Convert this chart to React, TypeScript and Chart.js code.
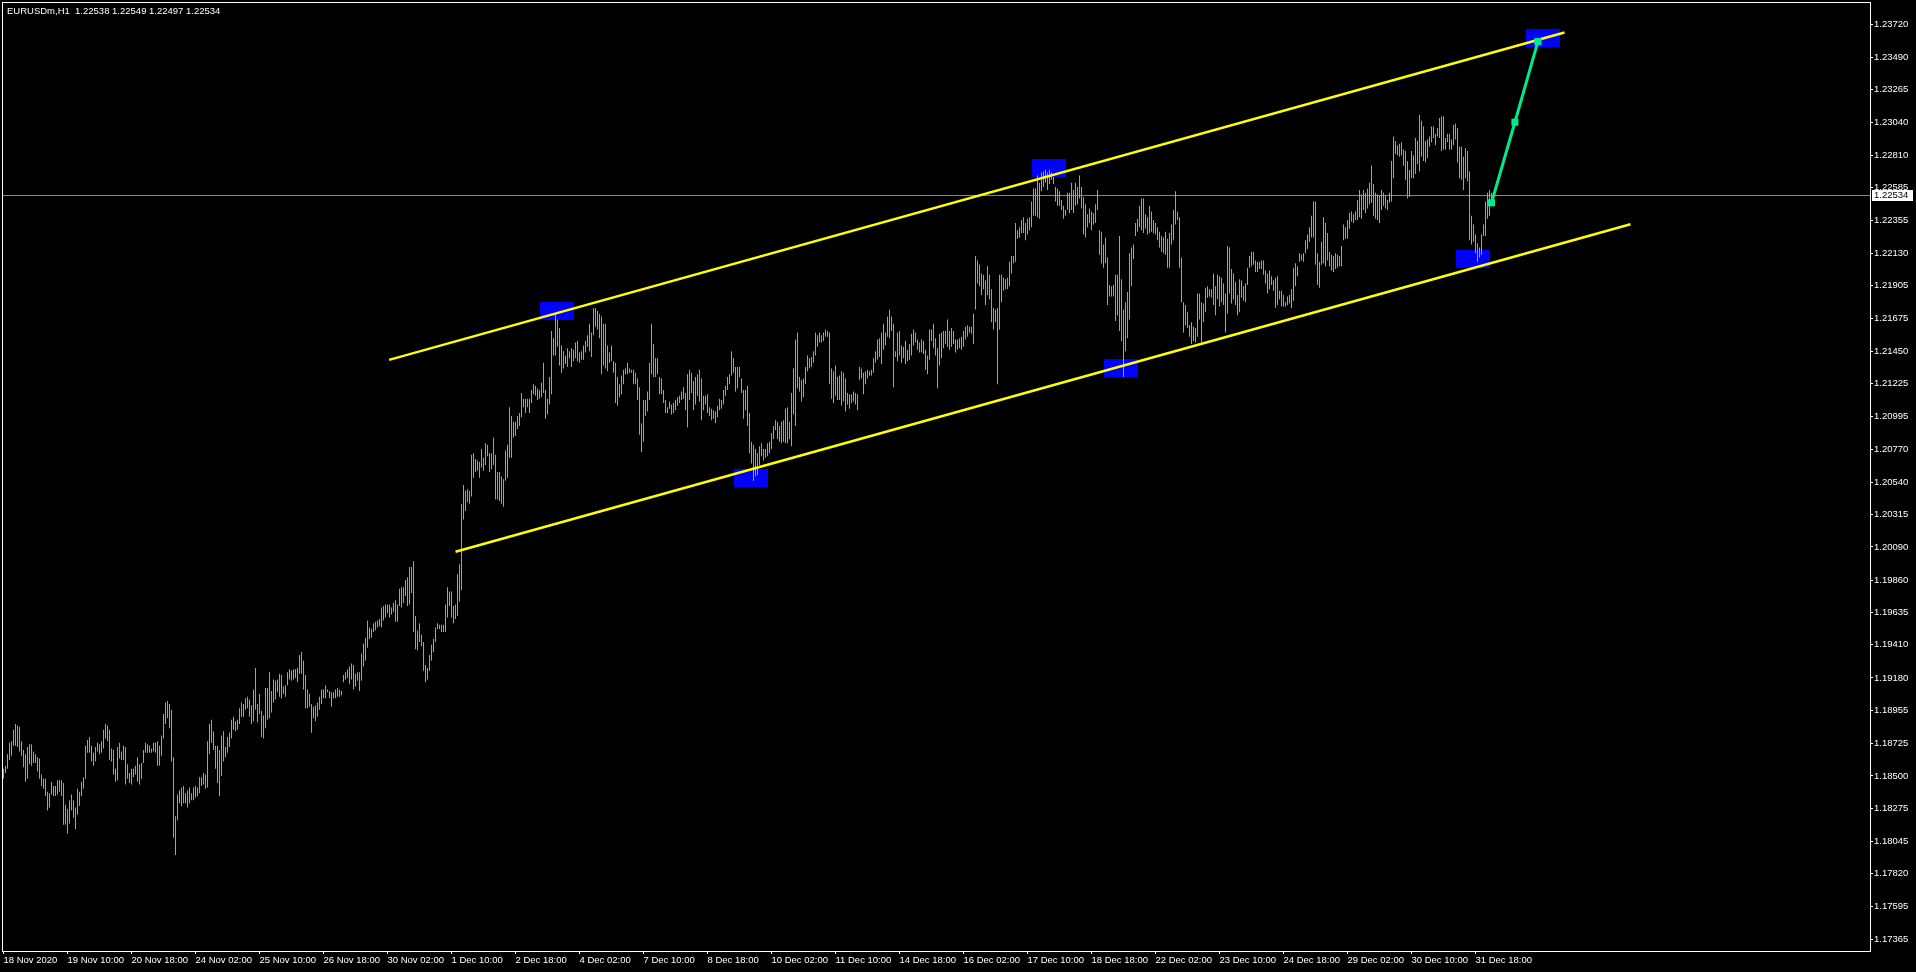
import React, { useEffect, useRef } from "react";
import { Chart, registerables } from "chart.js";

Chart.register(...registerables);

// ---------- data ----------
const chartTitle = "EURUSDm,H1  1.22538 1.22549 1.22497 1.22534";

const timeLabels = [
  "18 Nov 2020", "19 Nov 10:00", "20 Nov 18:00", "24 Nov 02:00", "25 Nov 10:00", "26 Nov 18:00",
  "30 Nov 02:00", "1 Dec 10:00", "2 Dec 18:00", "4 Dec 02:00", "7 Dec 10:00", "8 Dec 18:00",
  "10 Dec 02:00", "11 Dec 10:00", "14 Dec 18:00", "16 Dec 02:00", "17 Dec 10:00", "18 Dec 18:00",
  "22 Dec 02:00", "23 Dec 10:00", "24 Dec 18:00", "29 Dec 02:00", "30 Dec 10:00", "31 Dec 18:00",
];
const barsPerTimeLabel = 32;

const priceTicks = [
  1.2372, 1.2349, 1.23265, 1.2304, 1.2281, 1.22585, 1.22355, 1.2213, 1.21905, 1.21675,
  1.2145, 1.21225, 1.20995, 1.2077, 1.2054, 1.20315, 1.2009, 1.1986, 1.19635, 1.1941,
  1.1918, 1.18955, 1.18725, 1.185, 1.18275, 1.18045, 1.1782, 1.17595, 1.17365,
];

// hourly bars: high and low
const barHighs = [
  1.1855,1.1857,1.1865,1.1873,1.1874,1.1882,1.1886,1.1885,1.1884,1.1874,
  1.1868,1.1865,1.1870,1.1872,1.1872,1.1867,1.1865,1.1863,1.1862,1.1851,
  1.1848,1.1848,1.1839,1.1838,1.1846,1.1843,1.1843,1.1847,1.1847,1.1847,
  1.1845,1.1830,1.1827,1.1833,1.1837,1.1833,1.1828,1.1841,1.1839,1.1846,
  1.1849,1.1871,1.1875,1.1877,1.1871,1.1866,1.1870,1.1873,1.1872,1.1874,
  1.1882,1.1886,1.1885,1.1882,1.1869,1.1868,1.1855,1.1870,1.1873,1.1867,
  1.1871,1.1870,1.1858,1.1852,1.1855,1.1855,1.1857,1.1863,1.1858,1.1859,
  1.1868,1.1873,1.1872,1.1871,1.1869,1.1873,1.1873,1.1874,1.1871,1.1878,
  1.1893,1.1901,1.1902,1.1900,1.1896,1.1863,1.1822,1.1837,1.1840,1.1842,
  1.1843,1.1838,1.1840,1.1842,1.1838,1.1842,1.1843,1.1842,1.1849,1.1849,
  1.1852,1.1851,1.1874,1.1886,1.1889,1.1881,1.1871,1.1871,1.1868,1.1878,
  1.1881,1.1870,1.1877,1.1880,1.1889,1.1891,1.1888,1.1889,1.1897,1.1901,
  1.1900,1.1904,1.1905,1.1903,1.1899,1.1910,1.1925,1.1900,1.1907,1.1895,
  1.1892,1.1911,1.1911,1.1922,1.1909,1.1917,1.1916,1.1917,1.1921,1.1920,
  1.1912,1.1913,1.1922,1.1924,1.1923,1.1924,1.1924,1.1925,1.1934,1.1936,
  1.1930,1.1920,1.1910,1.1907,1.1900,1.1898,1.1899,1.1901,1.1905,1.1910,
  1.1910,1.1913,1.1910,1.1909,1.1908,1.1908,1.1910,1.1911,1.1910,1.1909,
  1.1920,1.1922,1.1924,1.1926,1.1928,1.1927,1.1921,1.1922,1.1922,1.1935,
  1.1942,1.1946,1.1958,1.1953,1.1952,1.1956,1.1957,1.1958,1.1959,1.1967,
  1.1968,1.1969,1.1969,1.1969,1.1967,1.1970,1.1972,1.1969,1.1980,1.1981,
  1.1981,1.1986,1.1988,1.1995,1.1995,1.1999,1.1961,1.1951,1.1956,1.1948,
  1.1943,1.1927,1.1925,1.1934,1.1941,1.1945,1.1953,1.1956,1.1955,1.1955,
  1.1955,1.1969,1.1981,1.1978,1.1978,1.1968,1.1969,1.1990,1.1997,1.2039,
  1.2052,1.2048,1.2049,1.2048,1.2073,1.2074,1.2070,1.2069,1.2068,1.2077,
  1.2071,1.2081,1.2080,1.2074,1.2074,1.2085,1.2073,1.2061,1.2061,1.2058,
  1.2056,1.2076,1.2080,1.2106,1.2100,1.2096,1.2096,1.2100,1.2102,1.2116,
  1.2112,1.2112,1.2112,1.2112,1.2118,1.2122,1.2121,1.2119,1.2118,1.2123,
  1.2137,1.2118,1.2112,1.2127,1.2159,1.2154,1.2171,1.2167,1.2161,1.2149,
  1.2145,1.2142,1.2147,1.2145,1.2147,1.2146,1.2151,1.2152,1.2144,1.2145,
  1.2149,1.2152,1.2156,1.2164,1.2158,1.2175,1.2175,1.2173,1.2171,1.2169,
  1.2164,1.2164,1.2149,1.2144,1.2149,1.2138,1.2137,1.2127,1.2122,1.2128,
  1.2132,1.2133,1.2137,1.2133,1.2132,1.2132,1.2130,1.2126,1.2120,1.2095,
  1.2111,1.2111,1.2117,1.2137,1.2164,1.2150,1.2140,1.2140,1.2127,1.2126,
  1.2118,1.2111,1.2106,1.2110,1.2108,1.2109,1.2111,1.2113,1.2114,1.2117,
  1.2120,1.2116,1.2129,1.2132,1.2130,1.2124,1.2127,1.2129,1.2132,1.2126,
  1.2114,1.2114,1.2115,1.2106,1.2105,1.2104,1.2103,1.2107,1.2112,1.2111,
  1.2118,1.2121,1.2127,1.2129,1.2145,1.2140,1.2134,1.2134,1.2134,1.2126,
  1.2118,1.2118,1.2121,1.2102,1.2082,1.2080,1.2077,1.2074,1.2079,1.2081,
  1.2077,1.2077,1.2081,1.2082,1.2088,1.2093,1.2097,1.2096,1.2093,1.2096,
  1.2097,1.2105,1.2106,1.2096,1.2116,1.2133,1.2153,1.2158,1.2127,1.2125,
  1.2126,1.2134,1.2142,1.2140,1.2141,1.2145,1.2158,1.2156,1.2158,1.2156,
  1.2158,1.2160,1.2159,1.2158,1.2133,1.2131,1.2135,1.2127,1.2128,1.2131,
  1.2130,1.2126,1.2116,1.2115,1.2115,1.2117,1.2116,1.2115,1.2134,1.2133,
  1.2130,1.2131,1.2132,1.2131,1.2132,1.2140,1.2145,1.2153,1.2154,1.2158,
  1.2164,1.2158,1.2169,1.2174,1.2169,1.2164,1.2145,1.2158,1.2159,1.2149,
  1.2148,1.2152,1.2146,1.2150,1.2157,1.2160,1.2158,1.2153,1.2151,1.2153,
  1.2152,1.2146,1.2142,1.2160,1.2160,1.2164,1.2154,1.2147,1.2157,1.2158,
  1.2159,1.2159,1.2167,1.2159,1.2161,1.2159,1.2153,1.2153,1.2154,1.2155,
  1.2159,1.2162,1.2163,1.2162,1.2162,1.2171,1.2211,1.2208,1.2205,1.2199,
  1.2198,1.2194,1.2204,1.2198,1.2188,1.2175,1.2174,1.2175,1.2198,1.2198,
  1.2196,1.2195,1.2196,1.2207,1.2211,1.2211,1.2234,1.2229,1.2231,1.2236,
  1.2238,1.2234,1.2237,1.2238,1.2249,1.2258,1.2258,1.2267,1.2262,1.2269,
  1.2270,1.2271,1.2269,1.2271,1.2269,1.2266,1.2259,1.2258,1.2256,1.2250,
  1.2246,1.2243,1.2255,1.2255,1.2262,1.2257,1.2262,1.2259,1.2267,1.2259,
  1.2252,1.2247,1.2240,1.2244,1.2242,1.2241,1.2247,1.2257,1.2229,1.2228,
  1.2219,1.2224,1.2210,1.2191,1.2190,1.2191,1.2198,1.2198,1.2225,1.2195,
  1.2174,1.2179,1.2186,1.2213,1.2217,1.2219,1.2234,1.2237,1.2246,1.2251,
  1.2251,1.2240,1.2238,1.2246,1.2242,1.2236,1.2234,1.2231,1.2228,1.2225,
  1.2224,1.2228,1.2223,1.2227,1.2233,1.2243,1.2256,1.2242,1.2238,1.2210,
  1.2179,1.2177,1.2172,1.2163,1.2165,1.2162,1.2161,1.2185,1.2185,1.2179,
  1.2178,1.2189,1.2190,1.2188,1.2188,1.2199,1.2190,1.2198,1.2197,1.2196,
  1.2192,1.2185,1.2218,1.2217,1.2202,1.2199,1.2193,1.2184,1.2195,1.2194,
  1.2190,1.2192,1.2203,1.2211,1.2214,1.2214,1.2208,1.2207,1.2207,1.2208,
  1.2208,1.2201,1.2199,1.2201,1.2197,1.2194,1.2196,1.2197,1.2187,1.2187,
  1.2184,1.2179,1.2183,1.2184,1.2188,1.2203,1.2206,1.2204,1.2213,1.2212,
  1.2213,1.2222,1.2226,1.2231,1.2239,1.2249,1.2249,1.2213,1.2207,1.2221,
  1.2238,1.2234,1.2227,1.2214,1.2212,1.2211,1.2213,1.2212,1.2211,1.2218,
  1.2233,1.2231,1.2236,1.2241,1.2242,1.2240,1.2242,1.2250,1.2257,1.2254,
  1.2257,1.2255,1.2258,1.2262,1.2274,1.2261,1.2255,1.2254,1.2253,1.2257,
  1.2255,1.2253,1.2250,1.2255,1.2277,1.2294,1.2291,1.2288,1.2289,1.2290,
  1.2285,1.2284,1.2277,1.2271,1.2284,1.2281,1.2293,1.2291,1.2309,1.2305,
  1.2301,1.2291,1.2292,1.2294,1.2301,1.2301,1.2296,1.2300,1.2307,1.2308,
  1.2308,1.2293,1.2296,1.2296,1.2292,1.2302,1.2303,1.2300,1.2287,1.2287,
  1.2280,1.2286,1.2284,1.2270,1.2239,1.2233,1.2226,1.2220,1.2217,1.2226,
  1.2233,1.2249,1.2255,1.2257,1.2255,
];

const barLows = [
  1.1848,1.1852,1.1855,1.1861,1.1864,1.1871,1.1871,1.1870,1.1867,1.1864,
  1.1856,1.1846,1.1848,1.1858,1.1857,1.1859,1.1859,1.1853,1.1848,1.1843,
  1.1841,1.1836,1.1826,1.1828,1.1837,1.1836,1.1836,1.1837,1.1839,1.1836,
  1.1816,1.1816,1.1810,1.1817,1.1826,1.1821,1.1813,1.1823,1.1829,1.1836,
  1.1841,1.1848,1.1866,1.1866,1.1860,1.1857,1.1860,1.1867,1.1865,1.1866,
  1.1869,1.1876,1.1874,1.1861,1.1860,1.1851,1.1846,1.1847,1.1862,1.1861,
  1.1861,1.1844,1.1848,1.1845,1.1844,1.1849,1.1851,1.1846,1.1844,1.1848,
  1.1859,1.1866,1.1866,1.1866,1.1866,1.1867,1.1866,1.1857,1.1857,1.1864,
  1.1876,1.1886,1.1890,1.1883,1.1860,1.1807,1.1795,1.1819,1.1831,1.1829,
  1.1831,1.1831,1.1828,1.1831,1.1833,1.1833,1.1835,1.1836,1.1838,1.1843,
  1.1844,1.1841,1.1842,1.1865,1.1873,1.1868,1.1855,1.1845,1.1836,1.1850,
  1.1860,1.1863,1.1866,1.1870,1.1876,1.1882,1.1881,1.1882,1.1886,1.1891,
  1.1891,1.1896,1.1897,1.1891,1.1886,1.1888,1.1896,1.1887,1.1893,1.1877,
  1.1876,1.1883,1.1889,1.1890,1.1894,1.1901,1.1903,1.1908,1.1905,1.1904,
  1.1907,1.1905,1.1913,1.1917,1.1916,1.1917,1.1918,1.1915,1.1921,1.1921,
  1.1910,1.1897,1.1897,1.1898,1.1880,1.1890,1.1888,1.1891,1.1896,1.1900,
  1.1904,1.1904,1.1908,1.1904,1.1898,1.1904,1.1904,1.1905,1.1905,1.1906,
  1.1915,1.1917,1.1918,1.1914,1.1917,1.1910,1.1912,1.1916,1.1909,1.1916,
  1.1926,1.1930,1.1939,1.1945,1.1946,1.1950,1.1951,1.1953,1.1954,1.1953,
  1.1958,1.1960,1.1963,1.1960,1.1962,1.1964,1.1957,1.1957,1.1968,1.1967,
  1.1970,1.1975,1.1968,1.1969,1.1977,1.1950,1.1938,1.1937,1.1943,1.1940,
  1.1923,1.1915,1.1917,1.1923,1.1930,1.1936,1.1943,1.1952,1.1952,1.1950,
  1.1950,1.1950,1.1960,1.1968,1.1960,1.1956,1.1959,1.1961,1.1971,1.1979,
  1.2028,1.2034,1.2040,1.2039,1.2044,1.2057,1.2061,1.2062,1.2057,1.2064,
  1.2062,1.2066,1.2072,1.2061,1.2063,1.2066,1.2042,1.2042,1.2041,1.2039,
  1.2037,1.2055,1.2057,1.2071,1.2071,1.2085,1.2086,1.2091,1.2093,1.2099,
  1.2106,1.2102,1.2106,1.2102,1.2109,1.2115,1.2114,1.2111,1.2112,1.2113,
  1.2116,1.2098,1.2101,1.2108,1.2115,1.2142,1.2142,1.2148,1.2135,1.2130,
  1.2133,1.2136,1.2134,1.2140,1.2134,1.2138,1.2140,1.2138,1.2137,1.2139,
  1.2139,1.2144,1.2148,1.2145,1.2141,1.2156,1.2162,1.2160,1.2154,1.2129,
  1.2135,1.2133,1.2131,1.2137,1.2138,1.2130,1.2109,1.2107,1.2113,1.2115,
  1.2122,1.2129,1.2129,1.2130,1.2130,1.2122,1.2122,1.2111,1.2087,1.2075,
  1.2082,1.2100,1.2103,1.2111,1.2129,1.2127,1.2127,1.2129,1.2115,1.2115,
  1.2109,1.2102,1.2102,1.2105,1.2101,1.2102,1.2104,1.2107,1.2109,1.2111,
  1.2112,1.2104,1.2092,1.2111,1.2116,1.2104,1.2108,1.2114,1.2110,1.2097,
  1.2104,1.2108,1.2102,1.2100,1.2097,1.2098,1.2095,1.2099,1.2104,1.2105,
  1.2108,1.2114,1.2118,1.2122,1.2128,1.2130,1.2117,1.2119,1.2127,1.2116,
  1.2098,1.2104,1.2093,1.2074,1.2067,1.2055,1.2058,1.2059,1.2066,1.2072,
  1.2069,1.2071,1.2072,1.2074,1.2077,1.2084,1.2090,1.2084,1.2082,1.2081,
  1.2082,1.2081,1.2081,1.2084,1.2079,1.2101,1.2093,1.2119,1.2117,1.2110,
  1.2113,1.2122,1.2131,1.2133,1.2134,1.2137,1.2142,1.2148,1.2151,1.2151,
  1.2152,1.2155,1.2155,1.2122,1.2112,1.2109,1.2114,1.2111,1.2111,1.2107,
  1.2110,1.2103,1.2108,1.2105,1.2109,1.2110,1.2108,1.2104,1.2125,1.2126,
  1.2115,1.2122,1.2126,1.2128,1.2128,1.2130,1.2137,1.2139,1.2141,1.2136,
  1.2146,1.2149,1.2155,1.2154,1.2159,1.2120,1.2141,1.2138,1.2142,1.2137,
  1.2140,1.2136,1.2138,1.2139,1.2142,1.2149,1.2151,1.2146,1.2144,1.2144,
  1.2143,1.2132,1.2129,1.2139,1.2152,1.2147,1.2142,1.2119,1.2135,1.2140,
  1.2147,1.2150,1.2148,1.2146,1.2148,1.2150,1.2144,1.2146,1.2147,1.2146,
  1.2148,1.2153,1.2155,1.2158,1.2157,1.2150,1.2174,1.2192,1.2190,1.2184,
  1.2188,1.2177,1.2184,1.2181,1.2165,1.2160,1.2165,1.2122,1.2160,1.2179,
  1.2187,1.2188,1.2188,1.2190,1.2199,1.2206,1.2207,1.2223,1.2224,1.2227,
  1.2227,1.2222,1.2226,1.2229,1.2231,1.2239,1.2239,1.2238,1.2237,1.2256,
  1.2259,1.2262,1.2257,1.2261,1.2264,1.2261,1.2249,1.2246,1.2246,1.2243,
  1.2237,1.2239,1.2243,1.2241,1.2243,1.2241,1.2246,1.2247,1.2251,1.2244,
  1.2226,1.2224,1.2231,1.2234,1.2229,1.2233,1.2234,1.2243,1.2212,1.2206,
  1.2203,1.2206,1.2177,1.2183,1.2183,1.2183,1.2166,1.2170,1.2159,1.2152,
  1.2127,1.2145,1.2154,1.2167,1.2190,1.2209,1.2225,1.2228,1.2231,1.2229,
  1.2227,1.2230,1.2226,1.2227,1.2228,1.2227,1.2226,1.2222,1.2217,1.2214,
  1.2213,1.2212,1.2203,1.2203,1.2219,1.2222,1.2233,1.2236,1.2203,1.2179,
  1.2158,1.2163,1.2161,1.2155,1.2150,1.2152,1.2151,1.2155,1.2167,1.2151,
  1.2165,1.2172,1.2182,1.2183,1.2182,1.2177,1.2170,1.2181,1.2176,1.2179,
  1.2177,1.2158,1.2171,1.2185,1.2178,1.2181,1.2177,1.2170,1.2172,1.2182,
  1.2180,1.2179,1.2191,1.2203,1.2204,1.2205,1.2200,1.2200,1.2202,1.2202,
  1.2198,1.2192,1.2185,1.2188,1.2191,1.2187,1.2175,1.2177,1.2181,1.2176,
  1.2176,1.2176,1.2177,1.2178,1.2175,1.2180,1.2190,1.2197,1.2207,1.2208,
  1.2207,1.2213,1.2216,1.2221,1.2224,1.2224,1.2205,1.2191,1.2189,1.2205,
  1.2206,1.2204,1.2208,1.2204,1.2201,1.2200,1.2202,1.2203,1.2204,1.2204,
  1.2222,1.2223,1.2223,1.2230,1.2235,1.2234,1.2236,1.2236,1.2238,1.2237,
  1.2243,1.2241,1.2244,1.2247,1.2248,1.2239,1.2237,1.2236,1.2234,1.2243,
  1.2246,1.2244,1.2243,1.2248,1.2249,1.2265,1.2282,1.2281,1.2280,1.2281,
  1.2274,1.2264,1.2251,1.2252,1.2265,1.2265,1.2268,1.2275,1.2270,1.2280,
  1.2277,1.2276,1.2279,1.2287,1.2290,1.2293,1.2288,1.2294,1.2293,1.2284,
  1.2285,1.2285,1.2290,1.2285,1.2285,1.2288,1.2292,1.2276,1.2265,1.2264,
  1.2257,1.2265,1.2263,1.2222,1.2219,1.2221,1.2213,1.2207,1.2210,1.2212,
  1.2225,1.2225,1.2237,1.2239,1.2250,
];

// channel lines (bar index, price)
const upperLineBars = [192.8, 780.5];
const upperLinePrices = [1.21389, 1.23663];
const lowerLineBars = [226, 813.5];
const lowerLinePrices = [1.20057, 1.22331];

// blue rectangles (bar range, price range)
const boxFromBars = [268, 365, 514, 550, 726, 761];
const boxToBars = [285, 382, 531, 567, 743, 778];
const boxHighs = [1.21791, 1.20632, 1.22785, 1.21396, 1.22153, 1.23687];
const boxLows = [1.21668, 1.20507, 1.22662, 1.21271, 1.2203, 1.23564];

// projection path
const projectionBars = [744, 755.7, 767.2];
const projectionPrices = [1.2248, 1.2304, 1.236];

const bidPrice = 1.22534;

// axis ranges
const xRange = [-0.75, 933.25];
const yRange = [1.1728374, 1.2387488];

// ---------- styles ----------
const FONT = "'Liberation Sans', Arial, sans-serif";
const FONT_SIZE = 9.5;
const BAR_COLOR = "#3ce836";
const CHANNEL_COLOR = "#ffff00";
const PROJ_COLOR = "#00ea8c";
const BOX_COLOR = "#0000ff";
const BID_COLOR = "#778899";

export default function App() {
  const ref = useRef<HTMLCanvasElement>(null);

  useEffect(() => {
    const canvas = ref.current;
    if (!canvas) return;
    const n = Math.min(barHighs.length, barLows.length);
    const bars: any[] = [];
    for (let i = 0; i < n; i++) bars.push({ x: i, y: [barLows[i], barHighs[i]] });

    const mtPlugin = {
      id: "mt4decor",
      beforeDatasetsDraw(chart: any) {
        const { ctx, chartArea: a, scales } = chart;
        const x = scales.x, y = scales.y;
        ctx.save();
        ctx.beginPath();
        ctx.rect(a.left, a.top, a.right - a.left, a.bottom - a.top);
        ctx.clip();
        ctx.fillStyle = BOX_COLOR;
        boxFromBars.forEach((b, k) => {
          const x0 = Math.round(x.getPixelForValue(b));
          const x1 = Math.round(x.getPixelForValue(boxToBars[k]));
          const y0 = Math.round(y.getPixelForValue(boxHighs[k]));
          const y1 = Math.round(y.getPixelForValue(boxLows[k]));
          ctx.fillRect(x0, y0, x1 - x0, y1 - y0);
        });
        const by = Math.round(y.getPixelForValue(bidPrice)) + 0.5;
        ctx.strokeStyle = BID_COLOR;
        ctx.lineWidth = 1;
        ctx.beginPath();
        ctx.moveTo(a.left, by);
        ctx.lineTo(a.right, by);
        ctx.stroke();
        ctx.restore();
      },
      afterDraw(chart: any) {
        const { ctx, chartArea: a, scales } = chart;
        ctx.save();
        ctx.strokeStyle = "#ffffff";
        ctx.lineWidth = 1;
        ctx.strokeRect(a.left + 0.5, a.top + 0.5, a.right - a.left, a.bottom - a.top);
        ctx.font = `${FONT_SIZE}px ${FONT}`;
        ctx.fillStyle = "#ffffff";
        ctx.textBaseline = "alphabetic";
        ctx.textAlign = "left";
        ctx.fillText(chartTitle, 7, 14);
        const by = Math.round(scales.y.getPixelForValue(bidPrice)) + 0.5;
        ctx.fillStyle = "#ffffff";
        ctx.fillRect(a.right + 2, Math.round(by - 6), 41, 11);
        ctx.fillStyle = "#000000";
        ctx.textBaseline = "middle";
        ctx.fillText(bidPrice.toFixed(5), a.right + 4, by);
        ctx.restore();
      },
    };

    const chart = new Chart(canvas, {
      type: "bar",
      data: {
        datasets: [
          {
            type: "line",
            data: projectionBars.map((b, k) => ({ x: b, y: projectionPrices[k] })),
            borderColor: PROJ_COLOR,
            backgroundColor: PROJ_COLOR,
            borderWidth: 3,
            pointStyle: "rect",
            pointRadius: 5,
            pointBorderWidth: 0,
            order: 0,
          },
          {
            type: "line",
            data: upperLineBars.map((b, k) => ({ x: b, y: upperLinePrices[k] })),
            borderColor: CHANNEL_COLOR,
            borderWidth: 2.5,
            pointRadius: 0,
            order: 1,
          },
          {
            type: "line",
            data: lowerLineBars.map((b, k) => ({ x: b, y: lowerLinePrices[k] })),
            borderColor: CHANNEL_COLOR,
            borderWidth: 2.5,
            pointRadius: 0,
            order: 1,
          },
          {
            type: "bar",
            data: bars,
            backgroundColor: BAR_COLOR,
            borderWidth: 0,
            barThickness: 1,
            inflateAmount: 0,
            order: 2,
          },
        ],
      } as any,
      options: {
        responsive: false,
        animation: false,
        events: [],
        layout: { autoPadding: false, padding: { left: 2, top: 2, right: 0, bottom: 0 } },
        plugins: { legend: { display: false }, tooltip: { enabled: false } },
        scales: {
          x: {
            type: "linear",
            position: "bottom",
            min: xRange[0],
            max: xRange[1],
            offset: false,
            grid: {
              display: true,
              drawOnChartArea: false,
              drawTicks: true,
              tickLength: 3,
              color: "#ffffff",
              tickColor: "#ffffff",
              offset: false,
            },
            border: { display: false },
            ticks: {
              color: "#ffffff",
              font: { family: FONT, size: FONT_SIZE },
              autoSkip: false,
              maxRotation: 0,
              minRotation: 0,
              align: "start",
              padding: 1,
              callback: (_v: any, idx: number) => timeLabels[idx] ?? "",
            },
            afterBuildTicks: (s: any) => {
              s.ticks = timeLabels.map((_, k) => ({ value: k * barsPerTimeLabel }));
            },
            afterFit: (s: any) => {
              s.height = 21;
              s.paddingLeft = 0;
              s.paddingRight = 0;
            },
          },
          y: {
            type: "linear",
            position: "right",
            min: yRange[0],
            max: yRange[1],
            grid: {
              display: true,
              drawOnChartArea: false,
              drawTicks: true,
              tickLength: 3,
              color: "#ffffff",
              tickColor: "#ffffff",
            },
            border: { display: false },
            ticks: {
              color: "#ffffff",
              font: { family: FONT, size: FONT_SIZE },
              autoSkip: false,
              padding: 1,
              callback: (v: any) => Number(v).toFixed(5),
            },
            afterBuildTicks: (s: any) => {
              s.ticks = priceTicks.map((v) => ({ value: v }));
            },
            afterFit: (s: any) => {
              s.width = 46;
              s.paddingTop = 0;
              s.paddingBottom = 0;
            },
          },
        },
      } as any,
      plugins: [mtPlugin],
    });

    return () => chart.destroy();
  }, []);

  return (
    <div
      style={{
        position: "fixed",
        left: 0,
        top: 0,
        width: 1916,
        height: 972,
        background: "#000000",
        overflow: "hidden",
      }}
    >
      <canvas ref={ref} width={1916} height={972} style={{ display: "block" }} />
    </div>
  );
}
